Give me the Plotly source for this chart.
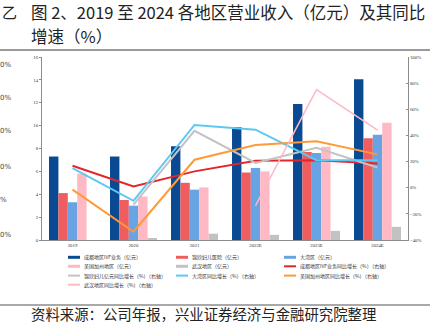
import plotly.graph_objects as go

# Categories and values
years = ["2019", "2020", "2021", "2022E", "2023E", "2024E"]

# Revenue by region (亿元), left axis
chengdu_ivf = [7.3, 7.3, 8.2, 9.85, 11.9, 14.05]
jinxin_hosp = [4.1, 3.5, 5.0, 5.9, 7.7, 8.9]
greater_bay = [3.3, 3.0, 4.4, 6.3, 7.6, 9.2]
us_california = [5.8, 3.8, 4.6, 6.0, 8.15, 10.25]
wuhan = [None, 0.15, 0.55, 0.45, 0.8, 1.15]

# Year-over-year growth (%), right axis
chengdu_ivf_yoy = [16.8, 1.0, 12.5, 20.7, 21.0, 18.6]
jinxin_yoy = [None, -13.0, 43.5, 19.0, 30.5, 15.5]
greater_bay_yoy = [15.0, -10.0, 48.0, 44.4, 21.0, 21.0]
us_california_yoy = [-1.5, -33.7, 21.4, 32.7, 35.5, 25.5]
wuhan_yoy = [None, None, None, -13.8, 75.0, 44.0]

bar_series = [
    ("成都地区IVF业务（亿元）", chengdu_ivf, "#0a4a92"),
    ("锦欣妇儿医院（亿元）", jinxin_hosp, "#ef5d5f"),
    ("大湾区（亿元）", greater_bay, "#68a3e4"),
    ("美国加州地区（亿元）", us_california, "#ffb9c4"),
    ("武汉地区（亿元）", wuhan, "#c2c2c2"),
]
line_series = [
    ("成都地区IVF业务同比增长（%）（右轴）", chengdu_ivf_yoy, "#e3262b", 2),
    ("锦欣妇儿亿元同比增长（%）（右轴）", jinxin_yoy, "#c3c3c3", 2),
    ("大湾区同比增长（%）（右轴）", greater_bay_yoy, "#5cc8f3", 2),
    ("美国加州地区同比增长（%）（右轴）", us_california_yoy, "#ff9a35", 2),
    ("武汉地区同比增长（%）（右轴）", wuhan_yoy, "#ffb9c4", 1.6),
]

W, H = 441, 324
L, R, T, B = 42, 408, 57, 240  # plot area in pixels


def px(x):
    return (x - L) / (R - L)


def py(y):
    return (B - y) / (B - T)


fig = go.Figure()
for name, vals, color in bar_series:
    fig.add_trace(go.Bar(x=years, y=vals, name=name, marker_color=color,
                         marker_line_width=0, showlegend=False))
for name, vals, color, w in line_series:
    fig.add_trace(go.Scatter(x=years, y=vals, name=name, yaxis="y2", mode="lines",
                             line=dict(color=color, width=w), connectgaps=False,
                             showlegend=False))

tick_font = dict(family="Liberation Serif", size=4.8, color="#333333")

fig.update_layout(
    width=W, height=H, autosize=False,
    margin=dict(l=L, r=W - R, t=T, b=H - B, pad=0),
    paper_bgcolor="white", plot_bgcolor="white",
    barmode="group", bargap=0.23, bargroupgap=0,
    xaxis=dict(type="category", showline=True, linecolor="#8c8c8c", linewidth=1.2,
               ticks="", tickfont=tick_font, showgrid=False, zeroline=False),
    yaxis=dict(range=[0, 16], dtick=2, showline=True, linecolor="#8c8c8c", linewidth=1,
               ticks="outside", ticklen=2, tickcolor="#8c8c8c", tickfont=tick_font,
               showgrid=False, zeroline=False),
    yaxis2=dict(range=[-40, 100], dtick=20, ticksuffix="%", overlaying="y", side="right",
                showline=True, linecolor="#8c8c8c", linewidth=1, ticks="inside", ticklen=2,
                tickcolor="#8c8c8c", tickfont=tick_font, showgrid=False, zeroline=False),
)

cjk = "Noto Sans CJK SC"
annotations = []
shapes = []

# Heading
annotations.append(dict(text="乙", x=px(0), y=py(12), xref="paper", yref="paper",
                        xanchor="left", yanchor="middle", showarrow=False,
                        font=dict(family=cjk, size=15, color="#222222")))
annotations.append(dict(text="图 2、2019 至 2024 各地区营业收入（亿元）及其同比",
                        x=px(29), y=py(12), xref="paper", yref="paper",
                        xanchor="left", yanchor="middle", showarrow=False,
                        font=dict(family=cjk, size=16.5, color="#222222")))
annotations.append(dict(text="增速（%）", x=px(29), y=py(35.5), xref="paper", yref="paper",
                        xanchor="left", yanchor="middle", showarrow=False,
                        font=dict(family=cjk, size=16.5, color="#222222")))

# Axis labels of the neighbouring panel on the left edge
for txt, yy in [("0%", 65), ("0%", 98), ("0%", 131), ("0%", 167), ("%", 200), ("0%", 235)]:
    annotations.append(dict(text=txt, x=px(-2), y=py(yy), xref="paper", yref="paper",
                            xanchor="left", yanchor="middle", showarrow=False,
                            font=dict(family="DejaVu Sans", size=7, color="#444444")))

# Separator rules
shapes.append(dict(type="line", xref="paper", yref="paper", x0=px(0), x1=px(430),
                   y0=py(50), y1=py(50), line=dict(color="#9a9a9a", width=2)))
shapes.append(dict(type="line", xref="paper", yref="paper", x0=px(0), x1=px(430),
                   y0=py(305), y1=py(305), line=dict(color="#555555", width=1.2)))

# Source note
annotations.append(dict(text="资料来源：公司年报，兴业证券经济与金融研究院整理",
                        x=px(29), y=py(313.5), xref="paper", yref="paper",
                        xanchor="left", yanchor="middle", showarrow=False,
                        font=dict(family=cjk, size=14.4, color="#222222")))

# Legend in three columns
col_x = [68, 176, 284]
row_y = [257.3, 266.3, 275.6, 284.7]
entries = [(n, c, 3) for n, _, c in bar_series] + [(n, c, 2) for n, _, c, _w in line_series]
for i, (name, color, lw) in enumerate(entries):
    cx = col_x[i % 3]
    ry = row_y[i // 3]
    shapes.append(dict(type="line", xref="paper", yref="paper", x0=px(cx), x1=px(cx + 12),
                       y0=py(ry), y1=py(ry), line=dict(color=color, width=lw)))
    annotations.append(dict(text=name, x=px(cx + 13.5), y=py(ry), xref="paper", yref="paper",
                            xanchor="left", yanchor="middle", showarrow=False,
                            font=dict(family=cjk, size=5, color="#333333")))

fig.update_layout(annotations=annotations, shapes=shapes)
fig.write_html("out.html")
